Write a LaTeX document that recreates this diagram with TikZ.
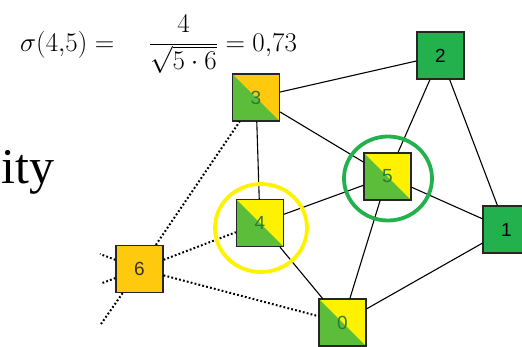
\RequirePackage{fix-cm}
\documentclass[tikz,border=0pt]{standalone}
\usepackage{fontspec}
\newfontfamily\nodefont{Liberation Sans}
\newfontfamily\bigserif{Liberation Serif}
\usetikzlibrary{calc}
\definecolor{gOrange}{HTML}{FFC90E}
\definecolor{gYellow}{HTML}{FFF200}
\definecolor{gLight}{HTML}{5CBD3A}
\definecolor{gGreen}{HTML}{22B14C}
\definecolor{lblGreen}{HTML}{2A7A3A}
\definecolor{lblDark}{HTML}{333333}
\tikzset{
  gnode/.style={draw=black!85, line width=1.2pt, minimum size=47pt, inner sep=0pt,
    font=\nodefont\fontsize{19}{19}\selectfont},
  fullnode/.style={gnode, fill=#1},
  halfnode/.style={gnode, fill=#1, text=lblGreen,
    path picture={\fill[gLight] (path picture bounding box.north west) --
      (path picture bounding box.south west) -- (path picture bounding box.south east) -- cycle;}},
  edge/.style={draw=black, line width=1.1pt},
  dots/.style={draw=black, line width=2pt, dash pattern=on 1.8pt off 2.2pt},
  ring/.style={draw=#1, line width=3.8pt},
}
\begin{document}
\begin{tikzpicture}[x=1pt,y=-1pt]
\useasboundingbox (0,0) rectangle (522,346);
\clip (0,0) rectangle (522,346);

% text
\node[anchor=base west, inner sep=0pt] (formula) at (20,51)
  {\fontsize{27}{31}\selectfont $\displaystyle \sigma(4{,}5) =\mskip 18mu \frac{4}{\sqrt{5\cdot 6}} = 0{,}73$};
\node[anchor=base west, inner sep=0pt] (ity) at (1,183)
  {\bigserif\fontsize{50}{50}\selectfont ity};

% nodes
\node[halfnode=gOrange] (n3) at (256,97.5) {3};
\node[fullnode=gGreen] (n2) at (440.5,55.5) {2};
\node[halfnode=gYellow] (n5) at (387.5,176.5) {5};
\node[fullnode=gGreen] (n1) at (506.5,229.5) {1};
\node[halfnode=gYellow] (n4) at (260,223) {4};
\node[fullnode=gOrange, text=lblDark] (n6) at (139.5,269) {6};
\node[halfnode=gYellow] (n0) at (342.5,322.5) {0};

% outside stubs
\coordinate (o1) at (100,254);
\coordinate (o2) at (101,283.5);
\coordinate (o3) at (101,324);

% solid edges
\draw[edge] (n3) -- (n2);
\draw[edge] (n3) -- (n5);
\draw[edge] (n3) -- (n4);
\draw[edge] (n4) -- (n5);
\draw[edge] (n4) -- (n0);
\draw[edge] (n5) -- (n0);
\draw[edge] (n5) -- (n2);
\draw[edge] (n5) -- (n1);
\draw[edge] (n2) -- (n1);
\draw[edge] (n0) -- (n1);

% dotted edges
\draw[dots] (n6) -- (n3);
\draw[dots] (n6) -- (n4);
\draw[dots] (n6) -- (n0);
\draw[dots] (n6) -- (o1);
\draw[dots] (n6) -- (o2);
\draw[dots] (n6) -- (o3);

% rings
\draw[ring=gYellow] (261,228) ellipse [x radius=46, y radius=44];
\draw[ring=gGreen] (388,178.5) ellipse [x radius=44, y radius=42];
\end{tikzpicture}
\end{document}
